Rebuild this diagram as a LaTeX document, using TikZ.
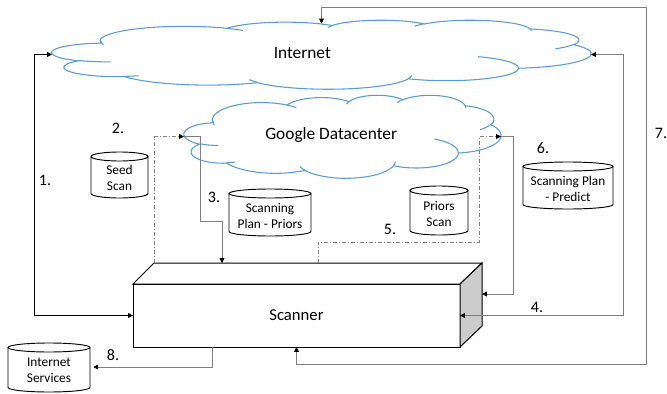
\documentclass[tikz,border=0pt]{standalone}
\usepackage{fontspec}
\setmainfont{Carlito}
\usetikzlibrary{arrows.meta,calc}
\definecolor{cloudblue}{HTML}{5B9BD5}
\definecolor{lgray}{HTML}{808080}
\definecolor{facegray}{HTML}{CCCCCC}
\newcommand\ca[4]{arc[x radius=#1,y radius=#2,start angle={pa(#3,#1,#2)},delta angle={dl(#3,#4,#1,#2)}]}
\def\cloudout{(39,143.7) \ca{67.53}{91.90}{-190.48748}{123.78053} \ca{53.33}{72.67}{-144.10238}{89.94523} \ca{43.65}{59.45}{-145.80792}{99.72302} \ca{48.57}{65.95}{-130.98607}{117.24173} \ca{53.33}{72.73}{-78.70888}{109.02692} \ca{67.75}{92.20}{-46.26725}{130.269} \ca{57.85}{78.67}{0.62502}{114.03333} \ca{67.52}{92.15}{22.4516}{115.17255} \ca{77.20}{105.43}{66.24263}{75.71102} \ca{43.60}{59.18}{-274.94208}{146.73557} \ca{43.45}{59.45}{-246.8285}{152.51885} -- cycle}
\def\cloudin{(46.93,261.77) \ca{43.45}{59.45}{86.742}{26.4295} (69.28,348.99) \ca{43.60}{59.18}{73.61047}{11.44747} (164.78,390.90) \ca{67.52}{92.15}{137.62415}{14.0811} (288.27,347.51) \ca{67.52}{92.15}{6.45327}{15.99835} (341.29,229.54) \ca{57.85}{78.67}{-70.29235}{70.91737} (417.98,153.54) \ca{53.33}{72.73}{30.31803}{27.7515} (383.24,54.26) \ca{48.57}{65.95}{-13.74433}{14.8589} (290.78,39.52) \ca{48.57}{65.95}{-149.18145}{18.19537} (221.41,47.20) \ca{43.65}{59.45}{-163.49427}{17.68635} (140.00,51.92) \ca{67.53}{91.90}{-66.70695}{12.31935} (41.27,157.89) \ca{67.53}{91.90}{163.0448}{20.10288}}
\newcommand\dbcyl[6]{%
  \pgfmathsetmacro\cylrx{(#4-#2)/2}%
  \pgfmathsetmacro\cylcx{(#4+#2)/2}%
  \pgfmathsetmacro\cylta{#3+4.5}%
  \pgfmathsetmacro\cyltb{#5-4.5}%
  \pgfmathsetmacro\cylty{(#3+#5)/2+3}%
  \pgfmathsetmacro\cylw{(#4-#2)*0.75}%
  \draw[cylline] (#2,\cylta) -- (#2,\cyltb) arc[start angle=180,end angle=0,x radius=\cylrx,y radius=4.5] -- (#4,\cylta);
  \draw[cylline] (\cylcx,\cylta) ellipse[x radius=\cylrx,y radius=4.5];
  \node[cyltext,minimum width=\cylw pt] (#1) at (\cylcx,\cylty) {#6};
}
\tikzset{
  cloudline/.style={draw=cloudblue,line width=0.8pt},
  cloudbox/.style={inner sep=0pt,outer sep=0pt},
  cloudtext/.style={font=\fontsize{13}{15.6}\selectfont,inner sep=0pt},
  cylline/.style={draw=black,line width=0.7pt},
  cyltext/.style={font=\fontsize{10}{12}\selectfont,align=center,inner sep=0pt},
  numlabel/.style={font=\fontsize{12}{14}\selectfont,inner sep=0pt},
  scanbox/.style={draw=black,line width=0.75pt,fill=white,inner sep=0pt,outer sep=0pt,
     minimum width=245.25pt,minimum height=47.25pt,font=\fontsize{12.5}{15}\selectfont},
  tip/.tip={Triangle[length=3.6pt,width=3.6pt,color=black]},
  blkline/.style={draw=black,line width=0.6pt},
  grayline/.style={draw=lgray,line width=0.6pt},
  ddline/.style={draw=lgray,line width=0.6pt,dash pattern=on 3pt off 1.5pt on 0.75pt off 1.5pt},
}
\begin{document}
\begin{tikzpicture}[x=0.75pt,y=-0.75pt,
  declare function={pa(\a,\w,\h)=atan2(\w*sin(\a),\h*cos(\a));
                    dl(\a,\s,\w,\h)=Mod(pa(\a+\s,\w,\h)-pa(\a,\w,\h),360);}]
\useasboundingbox (0,0) rectangle (667,393);

% clouds
\node[cloudbox,minimum width=404.25pt,minimum height=51.75pt] (inet) at (321.5,54.5) {};
\begin{scope}[shift={(inet.north west)},xscale=539/432,yscale=69/432]
  \draw[cloudline,fill=white] \cloudout;
  \draw[cloudline] \cloudin;
\end{scope}
\node[cloudtext] (inettxt) at (302.3,53) {Internet};

\node[cloudbox,minimum width=237.75pt,minimum height=62.25pt] (gdc) at (342.5,136.5) {};
\begin{scope}[shift={(gdc.north west)},xscale=317/432,yscale=83/432]
  \draw[cloudline,fill=white] \cloudout;
  \draw[cloudline] \cloudin;
\end{scope}
\node[cloudtext] (gdctxt) at (331.2,135) {Google Datacenter};

% scanner cuboid
\node[scanbox] (scanner) at (296.5,315.5) {Scanner};
\draw[line width=0.75pt,fill=white] (scanner.north west) -- ++(21,-21) -- ++(328,0) -- (scanner.north east) -- cycle;
\draw[line width=0.75pt,fill=facegray] (scanner.north east) -- ++(22,-21) -- ++(0,63) -- (scanner.south east) -- cycle;
\coordinate (s2) at ($(scanner.north west)+(21,-21)$);
\coordinate (s3) at ($(scanner.north west)+(89,-21)$);
\coordinate (s5) at ($(scanner.north west)+(185,-21)$);
\coordinate (s4) at ($(scanner.north east)+(22,10)$);

% cylinders
\dbcyl{seed}{91}{152}{148}{198}{Seed\\Scan}
\dbcyl{planpriors}{229}{189}{311}{236}{Scanning\\Plan - Priors}
\dbcyl{priorsscan}{410}{186}{468}{235}{Priors\\Scan}
\dbcyl{planpredict}{523}{162}{613}{209}{Scanning Plan\\- Predict}
\dbcyl{isvc}{8}{343}{90}{392}{Internet\\Services}

% connectors
\draw[blkline,tip-tip] (inet.west) -- ++(-18,0) |- (scanner.west);
\draw[ddline,-tip] (s2) |- (gdc.west);
\draw[grayline,-tip] (gdc.west) -| ($(s3)+(-22,-42)$) -| (s3);
\draw[ddline,-tip] (s5) -- ++(0,-21) -| ($(gdc.east)+(-22,0)$) -- (gdc.east);
\draw[grayline,-tip] (gdc.east) -- ++(12,0) |- (s4);
\draw[grayline,tip-tip] (inet.east) -- ++(32,0) |- (scanner.east);
\draw[grayline,tip-tip] (scanner.south) -- ++(0,17) -| (646,7) -| ($(inet.north)+(0,3.5)$);
\draw[grayline,-tip] ($(scanner.south west)+(79,0)$) |- ($(isvc.east)+(3,-3.5)$);

% step labels
\node[numlabel] (n1) at (45,180) {1.};
\node[numlabel] (n2) at (118,128) {2.};
\node[numlabel] (n3) at (214,197) {3.};
\node[numlabel] (n4) at (537,307) {4.};
\node[numlabel] (n5) at (390,229) {5.};
\node[numlabel] (n6) at (543,148) {6.};
\node[numlabel] (n7) at (661,133) {7.};
\node[numlabel] (n8) at (113,355) {8.};
\end{tikzpicture}
\end{document}
